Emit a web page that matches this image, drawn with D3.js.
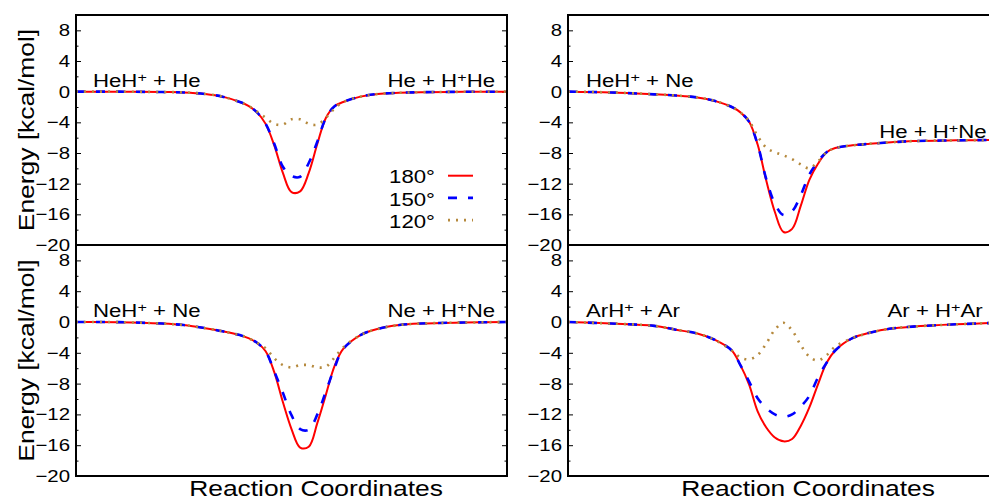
<!DOCTYPE html>
<html lang="en">
<head>
<meta charset="utf-8">
<script src="https://cdn.jsdelivr.net/npm/d3@7"></script>
<style>
  body { margin: 0; background: #fff; }
  svg { display: block; background: #fff; font-family: "Liberation Sans", Arial, Helvetica, sans-serif; }
  text { white-space: pre; }
</style>
</head>
<body>
<svg width="989" height="500"></svg>
<script>
// reaction coordinate grid (arbitrary units, 0..100 across each panel)
var rc = [0, 10, 20, 25, 30, 34, 38, 40, 42, 44, 46, 48, 50, 52, 54, 56, 58, 60, 62, 66, 70, 75, 80, 90, 100];

// HeH+ + He
var heHe180 = [0, 0, -0.05, -0.1, -0.3, -0.65, -1.35, -1.85, -2.7, -4.2, -7.0, -10.6, -13.1, -13.0, -10.6, -6.8, -3.4, -1.9, -1.35, -0.65, -0.3, -0.15, -0.07, -0.02, 0];
var heHe150 = [0, 0, -0.05, -0.1, -0.3, -0.65, -1.35, -1.85, -2.7, -4.2, -6.8, -9.8, -11.0, -11.1, -9.3, -6.5, -3.4, -1.9, -1.35, -0.65, -0.3, -0.15, -0.07, -0.02, 0];
var heHe120 = [0, 0, -0.05, -0.1, -0.3, -0.65, -1.35, -1.85, -2.6, -3.4, -4.2, -4.3, -3.6, -3.6, -4.2, -4.3, -3.4, -2.2, -1.35, -0.65, -0.3, -0.15, -0.07, -0.02, 0];

// HeH+ + Ne
var heNe180 = [0, -0.1, -0.35, -0.5, -0.75, -1.2, -2.0, -2.7, -3.9, -6.9, -11.6, -15.7, -18.3, -17.9, -14.9, -11.5, -9.4, -7.9, -7.35, -7.0, -6.8, -6.6, -6.45, -6.35, -6.3];
var heNe150 = [0, -0.1, -0.35, -0.5, -0.75, -1.2, -2.0, -2.7, -3.9, -6.9, -11.4, -14.6, -16.1, -15.6, -13.5, -10.8, -9.1, -7.9, -7.35, -7.0, -6.8, -6.6, -6.45, -6.35, -6.3];
var heNe120 = [0, -0.1, -0.35, -0.5, -0.75, -1.2, -2.0, -2.7, -3.8, -5.8, -7.3, -7.9, -8.3, -8.8, -9.5, -10.0, -9.1, -7.9, -7.35, -7.0, -6.8, -6.6, -6.45, -6.35, -6.3];

// NeH+ + Ne
var neNe180 = [0, -0.02, -0.2, -0.4, -0.8, -1.2, -1.7, -2.1, -2.7, -3.8, -6.5, -10.4, -13.9, -16.3, -16.2, -13.1, -9.4, -5.7, -3.5, -1.7, -0.9, -0.4, -0.2, -0.07, 0];
var neNe150 = [0, -0.02, -0.2, -0.4, -0.8, -1.2, -1.7, -2.1, -2.7, -3.8, -6.4, -9.2, -12.1, -13.9, -14.0, -12.0, -9.0, -5.9, -3.5, -1.7, -0.9, -0.4, -0.2, -0.07, 0];
var neNe120 = [0, -0.02, -0.2, -0.4, -0.8, -1.2, -1.7, -2.1, -2.7, -3.4, -4.7, -5.6, -5.9, -5.6, -5.6, -5.9, -5.8, -4.6, -3.3, -1.7, -0.9, -0.4, -0.2, -0.07, 0];

// ArH+ + Ar
var arAr180 = [0, -0.2, -0.5, -1.0, -1.5, -2.3, -3.7, -5.6, -8.1, -11.6, -13.7, -15.0, -15.5, -15.2, -13.5, -11.1, -8.1, -5.3, -3.7, -2.1, -1.4, -0.85, -0.6, -0.3, -0.1];
var arAr150 = [0, -0.2, -0.5, -1.0, -1.5, -2.3, -3.7, -5.6, -7.7, -9.9, -11.2, -12.0, -12.3, -12.0, -11.0, -9.6, -7.2, -5.3, -3.7, -2.1, -1.4, -0.85, -0.6, -0.3, -0.1];
var arAr120 = [0, -0.2, -0.5, -1.0, -1.5, -2.3, -3.7, -4.6, -4.85, -4.3, -2.8, -1.0, -0.1, -1.1, -3.0, -4.5, -5.0, -4.3, -3.2, -2.1, -1.4, -0.85, -0.6, -0.3, -0.1];

var yTicks = [-20, -16, -12, -8, -4, 0, 4, 8];
var angles = ["180°", "150°", "120°"];

var colors = ["#ff0000", "#0000ff", "#b5893d"];
var dashes = [null, "9,11", "2,6"];
var widths = [2, 2.6, 2.6];
var sx = 1.2; // glyphs in the original are wider than Arial

var panels = [
  { left: 76, top: 15, bottom: 245, series: [heHe180, heHe150, heHe120],
    lab1: [["HeH", 0], ["+", 1], [" + He", 0]], lab1x: 17, lab1y: 72.3,
    lab2: [["He + H", 0], ["+", 1], ["He", 0]], lab2x: 419, lab2y: 72.3, legend: true, ylab: true },
  { left: 568, top: 15, bottom: 245, series: [heNe180, heNe150, heNe120],
    lab1: [["HeH", 0], ["+", 1], [" + Ne", 0]], lab1x: 18, lab1y: 72.3,
    lab2: [["He + H", 0], ["+", 1], ["Ne", 0]], lab2x: 418.7, lab2y: 123.3 },
  { left: 76, top: 245, bottom: 476, series: [neNe180, neNe150, neNe120],
    lab1: [["NeH", 0], ["+", 1], [" + Ne", 0]], lab1x: 17, lab1y: 72.3,
    lab2: [["Ne + H", 0], ["+", 1], ["Ne", 0]], lab2x: 419, lab2y: 72.3, ylab: true, xlab: true },
  { left: 568, top: 245, bottom: 476, series: [arAr180, arAr150, arAr120],
    lab1: [["ArH", 0], ["+", 1], [" + Ar", 0]], lab1x: 18, lab1y: 72.3,
    lab2: [["Ar + H", 0], ["+", 1], ["Ar", 0]], lab2x: 414.7, lab2y: 72.3, xlab: true }
];
var panelWidth = 431;

var svg = d3.select("svg");

function stretchText(g, x, y, anchor, size, parts, rotate) {
  var t = g.append("text")
    .attr("transform", "translate(" + x + "," + y + ")" + (rotate ? " rotate(-90)" : "") + " scale(" + sx + ",1)")
    .attr("text-anchor", anchor)
    .attr("font-size", size)
    .attr("fill", "#000");
  if (typeof parts === "string") {
    t.text(parts);
    return t;
  }
  var prevSup = false;
  parts.forEach(function (p) {
    var ts = t.append("tspan").text(p[0]);
    if (p[1]) {
      ts.attr("font-size", 13.5).attr("dy", -5);
    } else if (prevSup) {
      ts.attr("dy", 5);
    }
    prevSup = !!p[1];
  });
  return t;
}

panels.forEach(function (p) {
  var x = d3.scaleLinear().domain([0, 100]).range([p.left, p.left + panelWidth]);
  var y = d3.scaleLinear().domain([-20, 10]).range([p.bottom, p.top]);
  var g = svg.append("g");

  // minor ticks
  var minor = d3.range(-18, 10, 4);
  g.append("g")
    .attr("transform", "translate(" + p.left + ",0)")
    .call(d3.axisLeft(y).tickValues(minor).tickSize(-2.5).tickSizeOuter(0).tickFormat(""))
    .call(function (a) { a.select(".domain").remove(); });
  g.append("g")
    .attr("transform", "translate(" + (p.left + panelWidth) + ",0)")
    .call(d3.axisRight(y).tickValues(minor).tickSize(-2.5).tickSizeOuter(0).tickFormat(""))
    .call(function (a) { a.select(".domain").remove(); });

  // major ticks with labels
  var ax = g.append("g")
    .attr("transform", "translate(" + p.left + ",0)")
    .call(d3.axisLeft(y).tickValues(yTicks).tickSize(-5).tickSizeOuter(0).tickPadding(5));
  ax.select(".domain").remove();
  ax.selectAll("text")
    .attr("font-size", 17)
    .attr("font-family", "\"Liberation Sans\", Arial, sans-serif")
    .attr("fill", "#000")
    .attr("transform", "scale(" + sx + ",1)");
  g.append("g")
    .attr("transform", "translate(" + (p.left + panelWidth) + ",0)")
    .call(d3.axisRight(y).tickValues(yTicks).tickSize(-5).tickSizeOuter(0).tickFormat(""))
    .call(function (a) { a.select(".domain").remove(); });
  g.selectAll(".tick line").attr("stroke", "#000").attr("stroke-width", 1);

  // curves
  var line = d3.line()
    .x(function (d, i) { return x(rc[i]); })
    .y(function (d) { return y(d); })
    .curve(d3.curveCatmullRom.alpha(0.5));
  p.series.forEach(function (s, k) {
    g.append("path")
      .attr("d", line(s))
      .attr("fill", "none")
      .attr("stroke", colors[k])
      .attr("stroke-width", widths[k])
      .attr("stroke-dasharray", dashes[k]);
  });

  // frame
  g.append("rect")
    .attr("x", p.left).attr("y", p.top)
    .attr("width", panelWidth).attr("height", p.bottom - p.top)
    .attr("fill", "none").attr("stroke", "#000").attr("stroke-width", 2);

  // reaction labels
  stretchText(g, p.left + p.lab1x, p.top + p.lab1y, "start", 18.5, p.lab1);
  stretchText(g, p.left + p.lab2x, p.top + p.lab2y, "end", 18.5, p.lab2);

  if (p.ylab) {
    stretchText(g, 34, (p.top + p.bottom) / 2, "middle", 22, "Energy [kcal/mol]", true);
  }
  if (p.xlab) {
    stretchText(g, p.left + 240, 496, "middle", 22, "Reaction Coordinates");
  }

  if (p.legend) {
    angles.forEach(function (a, k) {
      var ly = p.top + 160.7 + k * 22.2;
      stretchText(g, 435, ly + 7.6, "end", 18.5, a);
      g.append("line")
        .attr("x1", 448).attr("x2", 473)
        .attr("y1", ly).attr("y2", ly)
        .attr("stroke", colors[k])
        .attr("stroke-width", widths[k])
        .attr("stroke-dasharray", dashes[k]);
    });
  }
});
</script>
</body>
</html>
